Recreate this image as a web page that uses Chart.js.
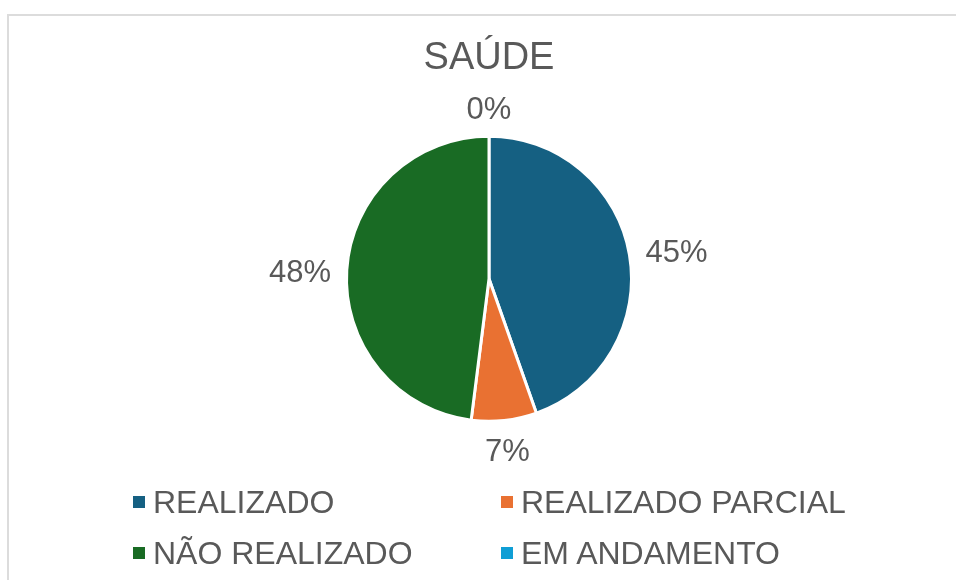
<!DOCTYPE html>
<html>
<head>
<meta charset="utf-8">
<script src="https://cdn.jsdelivr.net/npm/chart.js@4.4.1/dist/chart.umd.min.js"></script>
<style>
body{margin:0;background:#fff;font-family:"Liberation Sans",Arial,sans-serif;}
#wrap{position:relative;width:956px;height:580px;overflow:hidden;}
#frame{position:absolute;left:7px;top:14px;width:1000px;height:1000px;border:2px solid #dcdcdc;box-sizing:border-box;}
#chart{position:absolute;left:0;top:0;}
.legend-item{position:absolute;height:40px;display:flex;align-items:center;font-size:32px;color:#595959;white-space:nowrap;}
.legend-color-box{width:12px;height:12px;margin-right:8px;}
</style>
</head>
<body>
<div id="wrap">
<div id="frame"></div>
<canvas id="chart" width="956" height="580"></canvas>
<div id="chartLegend"></div>
</div>
<script>
// data
const categories=['REALIZADO','REALIZADO PARCIAL','NÃO REALIZADO','EM ANDAMENTO']
const values=[44.6,7.4,48.0,0]
const colors=['#156082','#E97132','#196B24','#0F9ED5']
const titleText='SAÚDE'

const total=values.reduce((a,b)=>a+b,0)

// percent labels outside the slices
const outsideLabels={
  id:'outsideLabels',
  afterDatasetsDraw(chart){
    const ctx=chart.ctx
    const meta=chart.getDatasetMeta(0)
    ctx.save()
    ctx.font='31px "Liberation Sans", Arial, sans-serif'
    ctx.fillStyle='#595959'
    ctx.textAlign='center'
    ctx.textBaseline='middle'
    meta.data.forEach((arc,i)=>{
      const p=arc.getProps(['x','y','startAngle','endAngle','outerRadius'],true)
      const mid=(p.startAngle+p.endAngle)/2
      const txt=Math.round(values[i]/total*100)+'%'
      const w=ctx.measureText(txt).width
      const cx=Math.cos(mid),sy=Math.sin(mid)
      const d=p.outerRadius+15+Math.abs(cx)*w/2+Math.abs(sy)*12.5
      ctx.fillText(txt,p.x+cx*d,p.y+sy*d+1.5+5*Math.abs(cx))
    })
    ctx.restore()
  }
}

const ctx=document.getElementById('chart').getContext('2d')
const myPie=new Chart(ctx,{
  type:'pie',
  data:{
    labels:categories,
    datasets:[{
      data:values,
      backgroundColor:colors,
      borderColor:'#ffffff',
      borderWidth:3
    }]
  },
  options:{
    responsive:false,
    animation:false,
    layout:{padding:{top:0,left:345,right:323,bottom:157}},
    plugins:{
      legend:{display:false},
      tooltip:{enabled:false},
      title:{
        display:true,
        text:titleText,
        color:'#595959',
        font:{family:'"Liberation Sans", Arial, sans-serif',size:38,weight:'normal'},
        padding:{top:36,bottom:53}
      }
    }
  },
  plugins:[outsideLabels]
})

// custom legend, two columns
const legendContainer=document.getElementById('chartLegend')
categories.forEach((label,i)=>{
  const item=document.createElement('div')
  item.className='legend-item'
  item.style.left=(133+(i%2)*368)+'px'
  item.style.top=(482+Math.floor(i/2)*51)+'px'
  item.innerHTML=`<div class="legend-color-box" style="background-color:${colors[i]}"></div>${label}`
  legendContainer.appendChild(item)
})
</script>
</body>
</html>
